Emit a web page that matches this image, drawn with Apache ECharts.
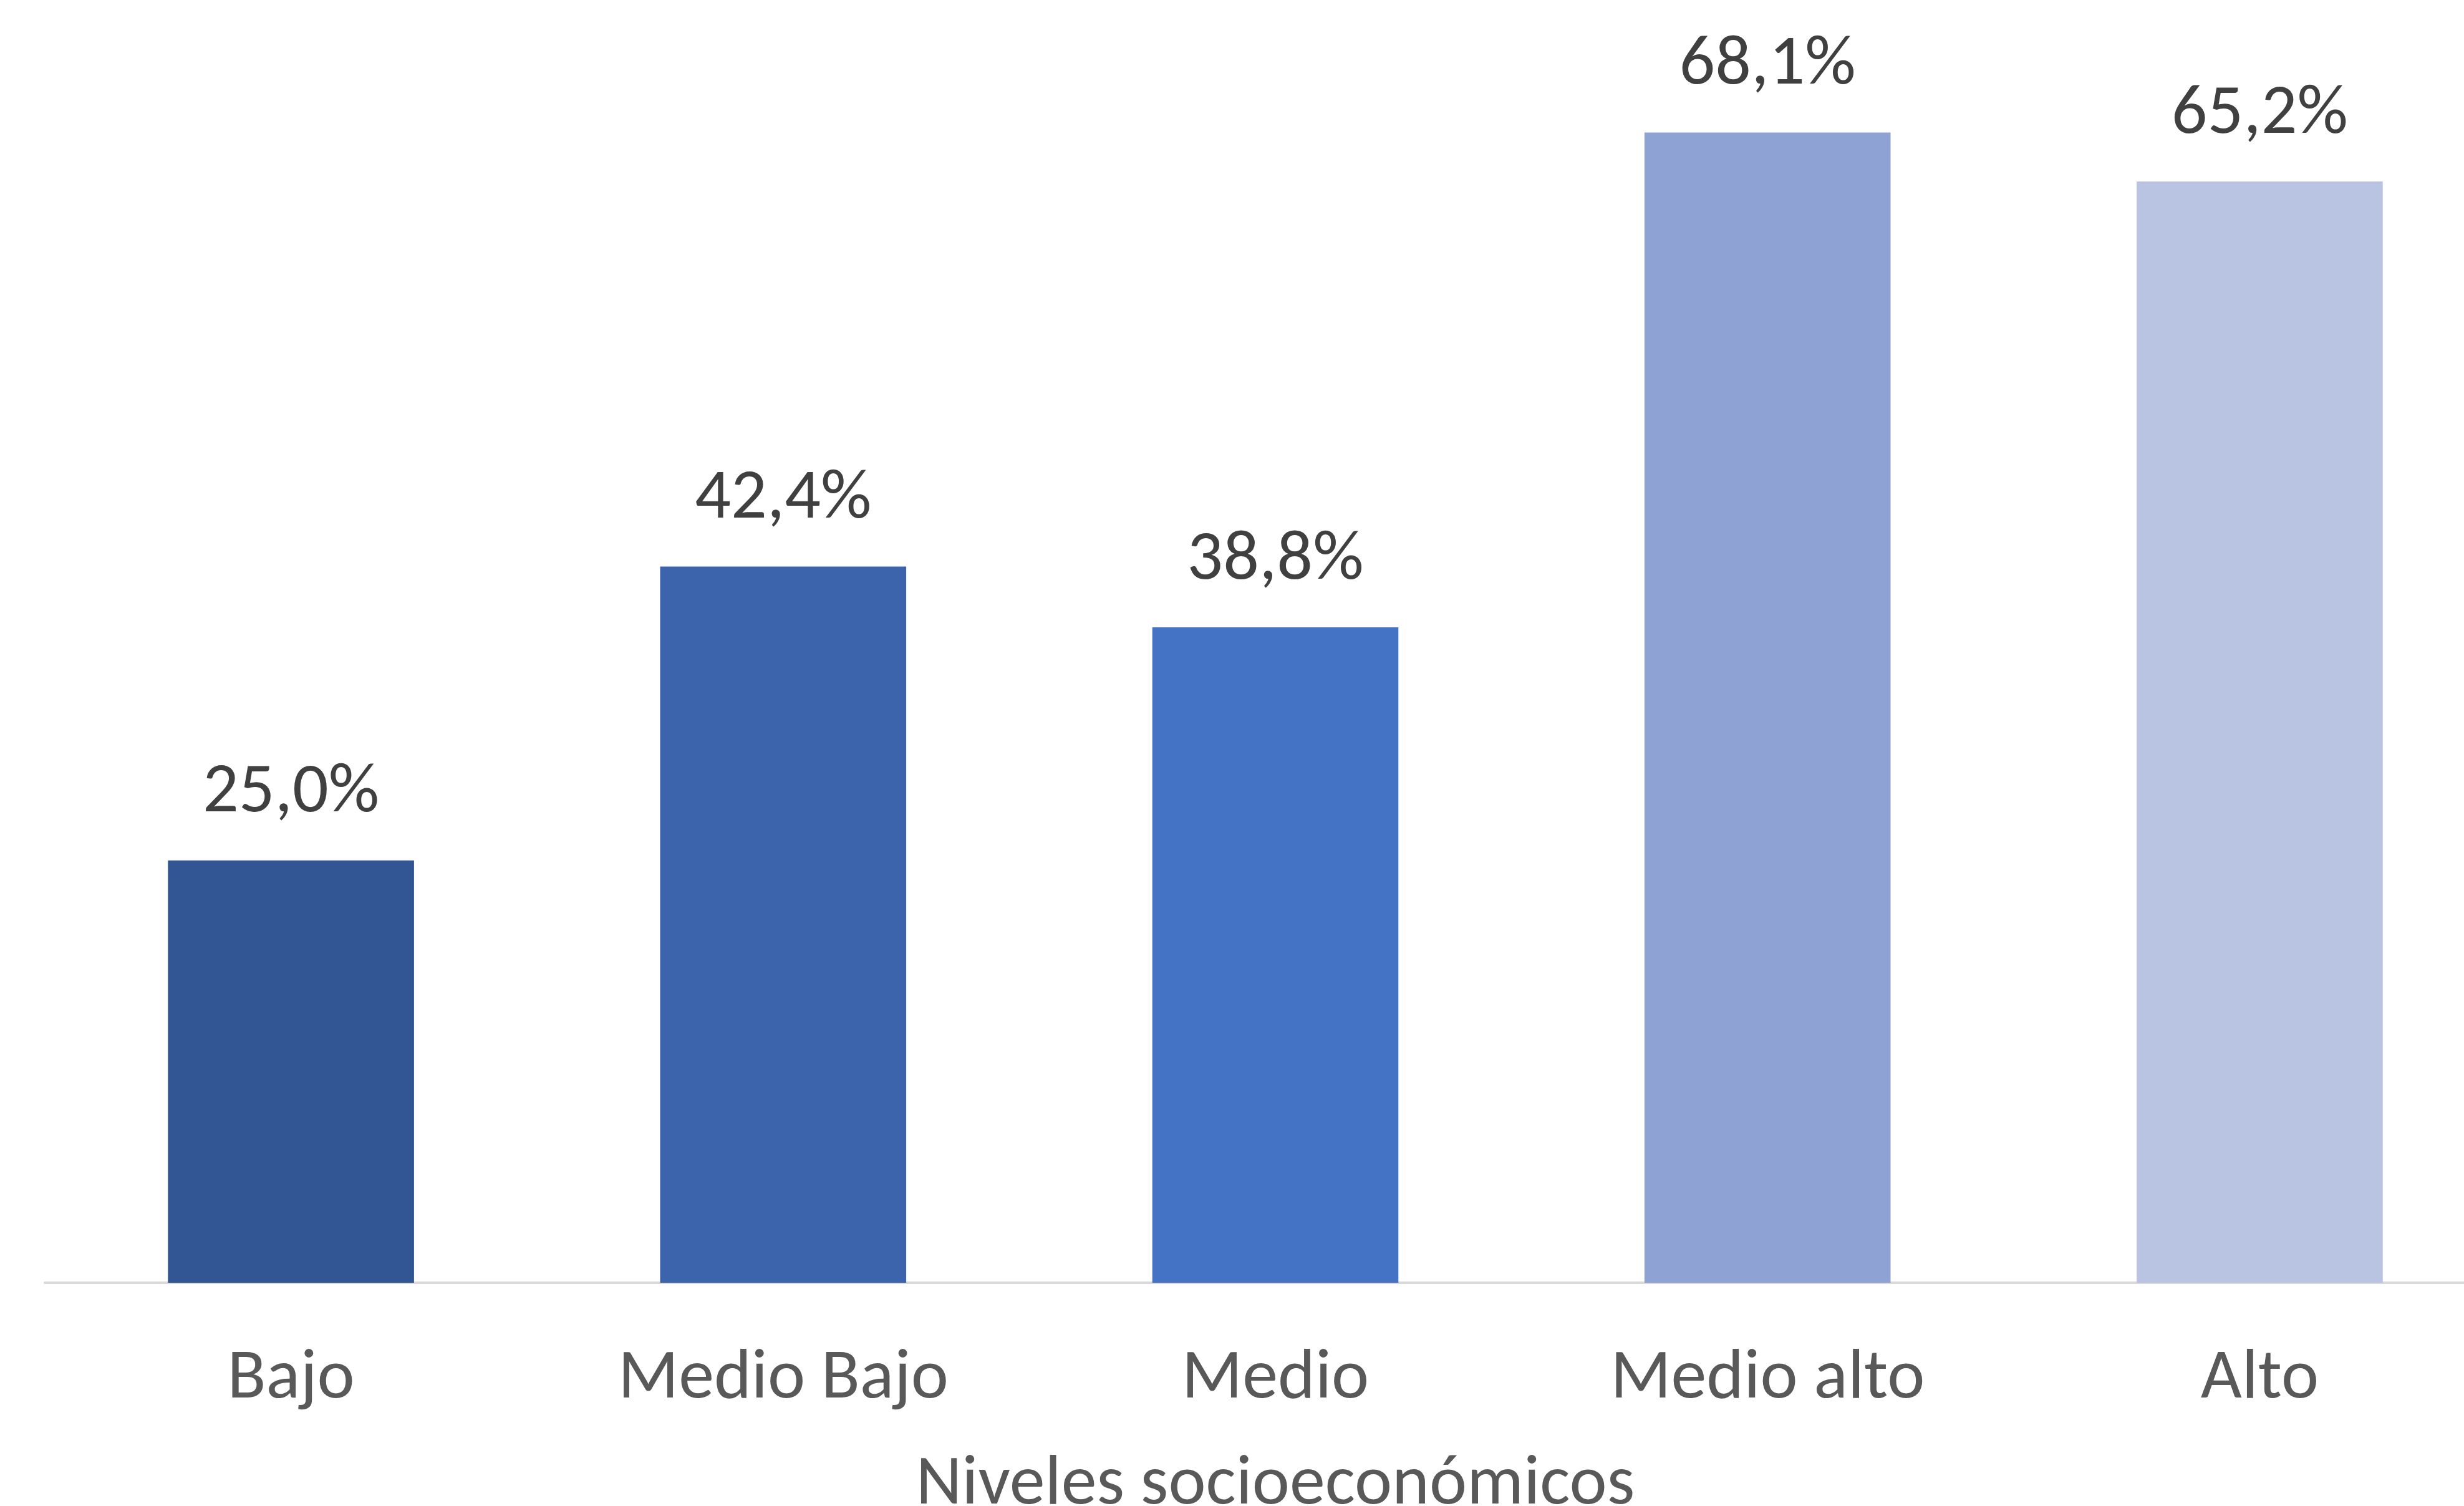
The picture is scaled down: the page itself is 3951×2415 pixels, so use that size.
<!DOCTYPE html>
<html>
<head>
<meta charset="utf-8">
<script src="https://cdn.jsdelivr.net/npm/echarts@6/dist/echarts.min.js"></script>
<style>html,body{margin:0;padding:0;background:#fff;}#c{width:3951px;height:2415px;}</style>
</head>
<body>
<div id="c"></div>
<script>
const categories = ['Bajo', 'Medio Bajo', 'Medio', 'Medio alto', 'Alto'];
const values = [25.0, 42.4, 38.8, 68.1, 65.2];
const barColors = ['#325593', '#3C64AD', '#4472C4', '#8FA2D4', '#B9C3E2'];
const axisTitle = 'Niveles socioeconómicos';

const FONT = 'Carlito, Calibri, "Open Sans", sans-serif';
const chart = echarts.init(document.getElementById('c'));
chart.setOption({
  animation: false,
  backgroundColor: '#ffffff',
  grid: { left: 72, right: -67, top: 161, bottom: 358, containLabel: false, outerBoundsMode: 'none' },
  xAxis: {
    type: 'category',
    data: categories,
    name: axisTitle,
    nameLocation: 'middle',
    nameGap: 268,
    nameTextStyle: { fontFamily: FONT, fontSize: 114, color: '#595959' },
    axisLine: { show: true, lineStyle: { color: '#D9D9D9', width: 4 } },
    axisTick: { show: false },
    axisLabel: { fontFamily: FONT, fontSize: 114, color: '#595959', margin: 98 }
  },
  yAxis: {
    type: 'value',
    min: 0, max: 70,
    show: false,
    splitLine: { show: false }
  },
  series: [{
    type: 'bar',
    data: values.map((v, i) => ({ value: v, itemStyle: { color: barColors[i] } })),
    barWidth: '50%',
    label: {
      show: true,
      position: 'top',
      distance: 50,
      fontFamily: FONT,
      fontSize: 114,
      color: '#404040',
      formatter: p => p.value.toFixed(1).replace('.', ',') + '%'
    }
  }]
});
</script>
</body>
</html>
